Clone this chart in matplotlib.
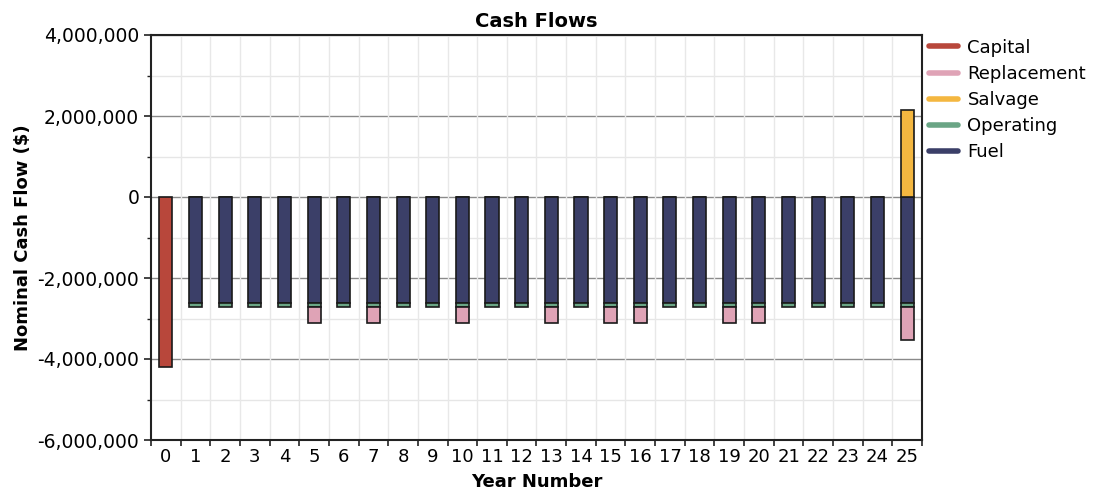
import numpy as np
import matplotlib
matplotlib.use("Agg")
import matplotlib.pyplot as plt
from matplotlib.lines import Line2D
from matplotlib.ticker import MultipleLocator, FuncFormatter

plt.rcParams['font.family'] = ['DejaVu Sans']

years = list(range(26))

capital = [-4190000] + [0] * 25
fuel = [0] + [-2620000] * 25
operating = [0] + [-90000] * 25
replacement = [0] * 26
for y, v in {5: -410000, 7: -410000, 10: -410000, 13: -410000, 15: -410000,
             16: -410000, 19: -410000, 20: -410000, 25: -810000}.items():
    replacement[y] = v
salvage = [0] * 25 + [2150000]

series_names = ["Capital", "Replacement", "Salvage", "Operating", "Fuel"]
series_colors = {
    "Capital": "#b8473b",
    "Replacement": "#dfa3b6",
    "Salvage": "#f4b740",
    "Operating": "#6aa585",
    "Fuel": "#3b3f68",
}

fig = plt.figure(figsize=(10.94, 5.0), dpi=100)
ax = fig.add_axes([0.1380, 0.12, 0.7048, 0.81])

x = np.array(years)
w = 0.44
edge = dict(edgecolor="#1a1a1a", linewidth=1.2, zorder=3)

# capital (year 0)
ax.bar(x, capital, w, color=series_colors["Capital"], **edge)
# negative stack: fuel, then operating, then replacement
fuel_a = np.array(fuel, dtype=float)
op_a = np.array(operating, dtype=float)
rep_a = np.array(replacement, dtype=float)
mask = x > 0
ax.bar(x[mask], fuel_a[mask], w, color=series_colors["Fuel"], **edge)
ax.bar(x[mask], op_a[mask], w, bottom=fuel_a[mask], color=series_colors["Operating"], **edge)
rmask = rep_a != 0
ax.bar(x[rmask], rep_a[rmask], w, bottom=(fuel_a + op_a)[rmask],
       color=series_colors["Replacement"], **edge)
# positive salvage
sal_a = np.array(salvage, dtype=float)
smask = sal_a != 0
ax.bar(x[smask], sal_a[smask], w, color=series_colors["Salvage"], **edge)

ax.set_xlim(-0.5, 25.5)
ax.set_ylim(-6000000, 4000000)

# ticks at category boundaries, labels at category centres
ax.set_xticks(np.arange(-0.5, 26, 1.0))
ax.set_xticklabels([])
ax.set_xticks(x, minor=True)
ax.set_xticklabels([str(v) for v in years], minor=True)
ax.tick_params(axis="x", which="major", length=4, width=1.2, color="#222222", direction="out")
ax.tick_params(axis="x", which="minor", length=0, labelsize=13, pad=6)

ax.yaxis.set_major_locator(MultipleLocator(2000000))
ax.yaxis.set_minor_locator(MultipleLocator(1000000))
ax.yaxis.set_major_formatter(FuncFormatter(lambda v, p: f"{int(v):,}"))
ax.tick_params(axis="y", which="major", length=5, width=1.2, labelsize=13.5, color="#222222")
ax.tick_params(axis="y", which="minor", length=3, width=1.0, color="#222222")

# grid
for yv in np.arange(-6000000, 4000001, 1000000):
    if yv % 2000000 == 0:
        ax.axhline(yv, color="#8a8a8a", linewidth=1.0, zorder=1)
    else:
        ax.axhline(yv, color="#e6e6e6", linewidth=1.0, zorder=1)
for xv in np.arange(0.5, 25.5, 1.0):
    ax.axvline(xv, color="#e8e8e8", linewidth=1.0, zorder=1)

for s in ax.spines.values():
    s.set_linewidth(1.5)
    s.set_color("#222222")

ax.set_title("Cash Flows", fontsize=14, fontweight="bold", pad=6)
ax.set_xlabel("Year Number", fontsize=13, fontweight="bold", labelpad=5)
ax.set_ylabel("Nominal Cash Flow ($)", fontsize=13, fontweight="bold", labelpad=4)

handles = [Line2D([0], [0], color=series_colors[n], linewidth=4, solid_capstyle="round")
           for n in series_names]
leg = fig.legend(handles, series_names, loc="upper left",
                 bbox_to_anchor=(0.843, 0.937), frameon=False, fontsize=13,
                 handlelength=1.6, handletextpad=0.5, labelspacing=0.45,
                 borderaxespad=0.0)

fig.savefig("out.png", dpi=100)
